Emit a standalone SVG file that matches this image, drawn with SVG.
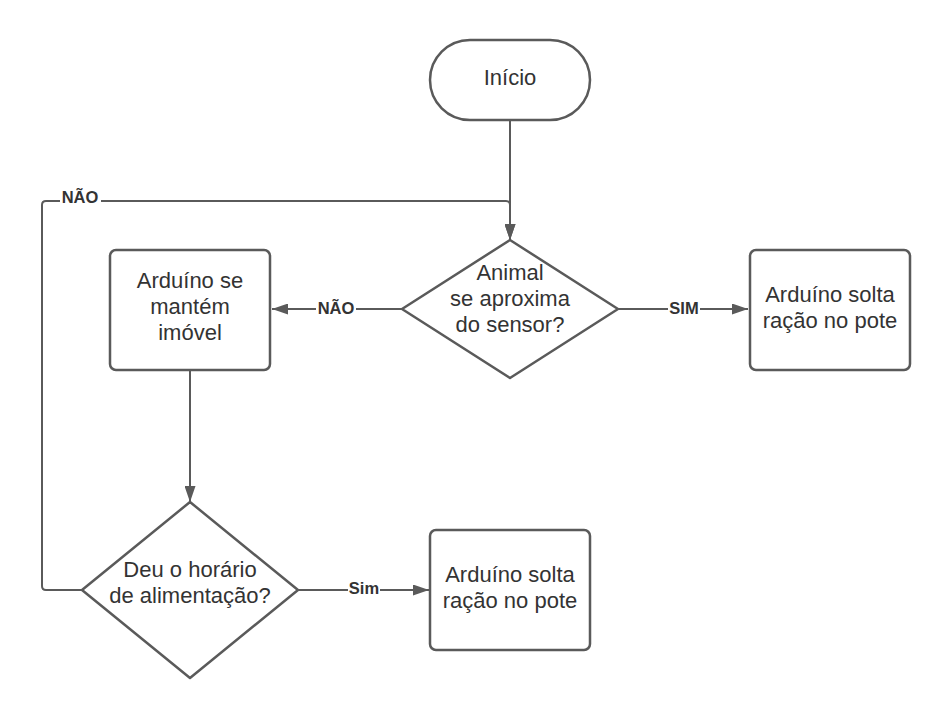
<svg xmlns="http://www.w3.org/2000/svg" width="950" height="720" viewBox="0 0 950 720">
<defs>
<style>
.shape{fill:#ffffff;stroke:#5a5a5a;stroke-width:2.5;stroke-linejoin:round}
.conn{fill:none;stroke:#5a5a5a;stroke-width:2}
.t{font-family:"Liberation Sans",Arial,sans-serif;font-size:22px;fill:#333333;text-anchor:middle}
.lbl{font-family:"Liberation Sans",Arial,sans-serif;font-size:16.5px;font-weight:bold;fill:#333333;text-anchor:middle}
.bg{fill:#ffffff}
</style>
<marker id="arr" viewBox="0 0 16 11" refX="16" refY="5.5" markerWidth="16" markerHeight="11" markerUnits="userSpaceOnUse" orient="auto">
<path d="M0,0 L16,5.5 L0,11 Z" fill="#5a5a5a"/>
</marker>
</defs>
<rect width="950" height="720" fill="#ffffff"/>
<g id="connectors">
<path class="conn" d="M510,120 L510,240" marker-end="url(#arr)"/>
<path class="conn" d="M82,590 L46,590 Q42,590 42,586 L42,205 Q42,201 46,201 L506,201 Q510,201 510,205 L510,240" marker-end="url(#arr)"/>
<path class="conn" d="M402,309 L272,309" marker-end="url(#arr)"/>
<path class="conn" d="M618,309 L748,309" marker-end="url(#arr)"/>
<path class="conn" d="M190,370 L190,502" marker-end="url(#arr)"/>
<path class="conn" d="M298,590 L429,590" marker-end="url(#arr)"/>
<rect class="bg" x="60" y="190" width="41" height="20"/>
<text class="lbl" x="80" y="203">NÃO</text>
<rect class="bg" x="316" y="299" width="40" height="20"/>
<text class="lbl" x="336" y="314">NÃO</text>
<rect class="bg" x="668" y="299" width="32" height="20"/>
<text class="lbl" x="684" y="314">SIM</text>
<rect class="bg" x="348" y="580" width="32" height="20"/>
<text class="lbl" x="364" y="594">Sim</text>
</g>
<g id="inicio">
<rect class="shape" x="430" y="40" width="160" height="80" rx="40" ry="40"/>
<text class="t" x="510" y="85">Início</text>
</g>
<g id="animal">
<path class="shape" d="M510,240 L618,309 L510,378 L402,309 Z"/>
<text class="t" x="510" y="280">Animal</text>
<text class="t" x="510" y="306">se aproxima</text>
<text class="t" x="510" y="332">do sensor?</text>
</g>
<g id="mantem">
<rect class="shape" x="110" y="250" width="160" height="120" rx="6" ry="6"/>
<text class="t" x="190" y="288">Arduíno se</text>
<text class="t" x="190" y="314">mantém</text>
<text class="t" x="190" y="340">imóvel</text>
</g>
<g id="solta1">
<rect class="shape" x="750" y="250" width="160" height="120" rx="6" ry="6"/>
<text class="t" x="830" y="302">Arduíno solta</text>
<text class="t" x="830" y="328">ração no pote</text>
</g>
<g id="horario">
<path class="shape" d="M190,502 L298,590 L190,678 L82,590 Z"/>
<text class="t" x="190" y="577">Deu o horário</text>
<text class="t" x="190" y="603">de alimentação?</text>
</g>
<g id="solta2">
<rect class="shape" x="430" y="530" width="160" height="120" rx="6" ry="6"/>
<text class="t" x="510" y="582">Arduíno solta</text>
<text class="t" x="510" y="608">ração no pote</text>
</g>
</svg>
